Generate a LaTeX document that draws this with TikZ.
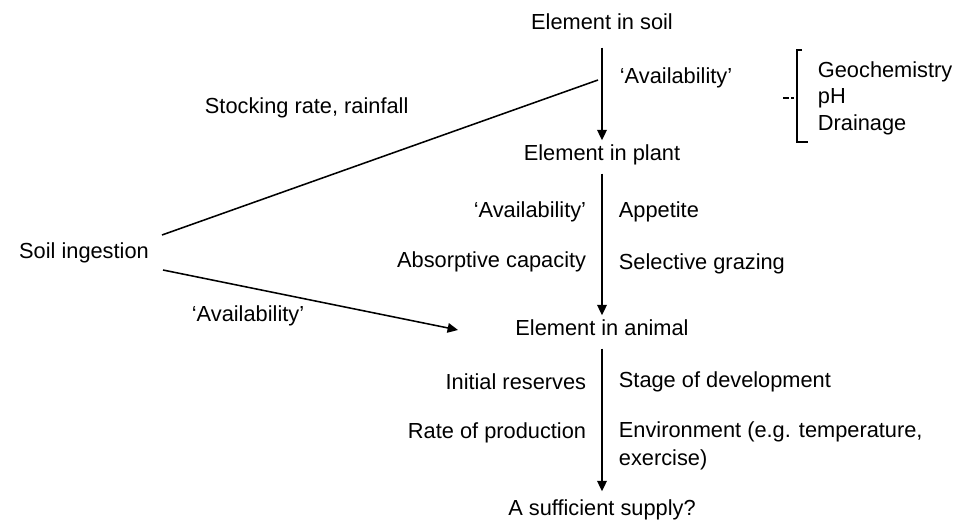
\documentclass[tikz,border=0pt]{standalone}
\usepackage{fontspec}
\setmainfont{Liberation Sans}
\usetikzlibrary{arrows.meta}

\begin{document}
\begin{tikzpicture}[x=0.025cm,y=-0.025cm,
    txt/.style={font=\fontsize{15.5}{19.5}\selectfont,inner sep=4pt},
    stage/.style={txt,text height=0.75em,text depth=0.22em},
    flow/.style={line width=1.1pt,shorten <=1mm,shorten >=1mm,-{Triangle[length=2.6mm,width=2.4mm]}},
    feed/.style={line width=1.1pt}]
        \useasboundingbox (0,0) rectangle (969,526);
        % main chain
        \node[stage] (soil) at (602,26) {Element in soil};
        \node[stage] (plant) at (602,157) {Element in plant};
        \node[stage] (animal) at (602,332) {Element in animal};
        \node[stage] (supply) at (602,512) {A sufficient supply?};
        \draw[flow,shorten <=2.2mm] (soil) -- (plant);
        \draw[flow] (plant) -- (animal);
        \draw[flow,shorten >=2mm] (animal) -- (supply);
        % soil -> plant
        \node[txt,anchor=west] (avsoil) at (614,78) {`Availability'};
        \node[txt,anchor=west] (geo) at (812,72) {Geochemistry};
        \node[txt,anchor=west] (ph) at (812,98) {pH};
        \node[txt,anchor=west] (drain) at (812,125) {Drainage};
        \draw[line width=.8pt] (802,50) -- (797,50) -- (797,142) -- (808,142);
        \draw[line width=.8pt,dash pattern=on 4pt off 2pt] (783,98) -- (794,98);
        % plant -> animal
        \node[txt,anchor=east] (avplant) at (592,212) {`Availability'};
        \node[txt,anchor=west] (appetite) at (613,212) {Appetite};
        \node[txt,anchor=east] (absorb) at (592,262) {Absorptive capacity};
        \node[txt,anchor=west] (select) at (613,264) {Selective grazing};
        % animal -> supply
        \node[txt,anchor=east] (reserve) at (592,382) {Initial reserves};
        \node[txt,anchor=west] (stage) at (613,382) {Stage of development};
        \node[txt,anchor=east] (rate) at (592,433) {Rate of production};
        \node[txt,anchor=west,align=left] (envir) at (613,446) {Environment (e.g. temperature,\\exercise)};
        % soil ingestion
        \node[txt] (ingest) at (84,253) {Soil ingestion};
        \node[txt,anchor=west] (stock) at (199,108) {Stocking rate, rainfall};
        \node[txt,anchor=west] (avingest) at (186,316) {`Availability'};
        \coordinate (meet) at (598,80);
        \coordinate (into) at (458,330);
        \draw[feed] (162,235) -- (meet);
        \draw[flow,shorten <=0mm,shorten >=0mm] (163,270) -- (into);
    \end{tikzpicture}
\end{document}
